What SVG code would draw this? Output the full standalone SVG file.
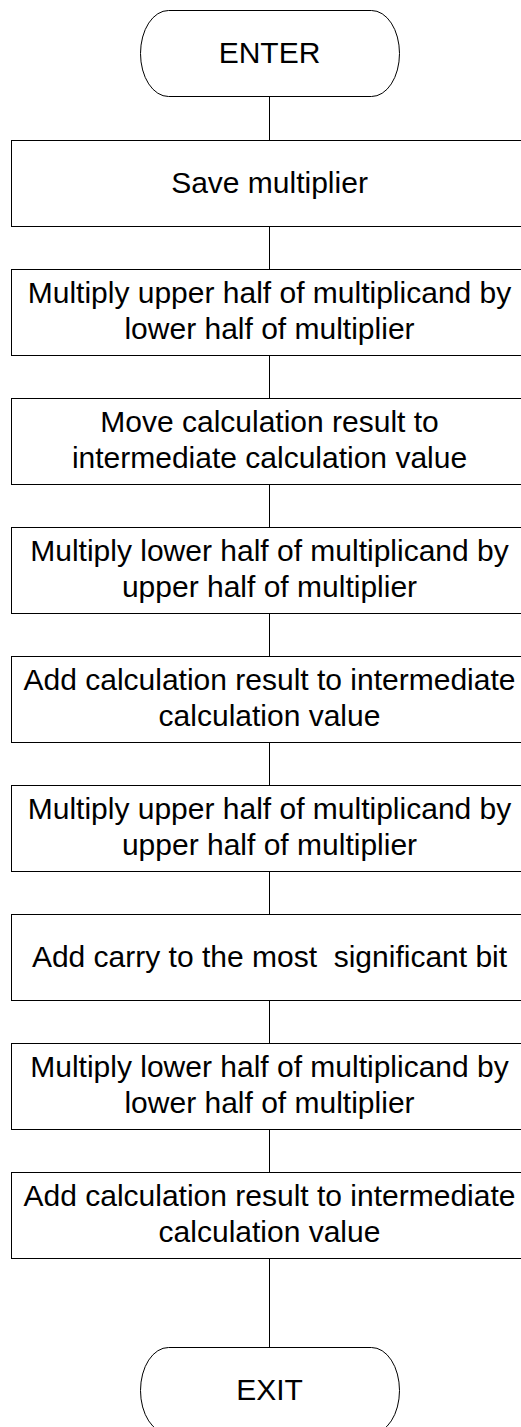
<svg xmlns="http://www.w3.org/2000/svg" width="521" height="1427" viewBox="0 0 521 1427">
<style>
.box{fill:#fff;stroke:#000;stroke-width:1}
.term{fill:#fff;stroke:#000;stroke-width:1}
.lbl{font-family:"Liberation Sans",Arial,sans-serif;font-size:30px;fill:#000;text-anchor:middle}
.conn{stroke:#000;stroke-width:1;fill:none}
</style>
<rect width="521" height="1427" fill="#fff"/>
<g id="connectors">
<line class="conn" x1="269.5" y1="96" x2="269.5" y2="140"/>
<line class="conn" x1="269.5" y1="226" x2="269.5" y2="269"/>
<line class="conn" x1="269.5" y1="355" x2="269.5" y2="398"/>
<line class="conn" x1="269.5" y1="484" x2="269.5" y2="527"/>
<line class="conn" x1="269.5" y1="613" x2="269.5" y2="656"/>
<line class="conn" x1="269.5" y1="742" x2="269.5" y2="785"/>
<line class="conn" x1="269.5" y1="871" x2="269.5" y2="914"/>
<line class="conn" x1="269.5" y1="1000" x2="269.5" y2="1043"/>
<line class="conn" x1="269.5" y1="1129" x2="269.5" y2="1172"/>
<line class="conn" x1="269.5" y1="1258" x2="269.5" y2="1347"/>
</g>
<g id="enter">
<rect class="term" x="140.5" y="10.5" width="259" height="86" rx="28" ry="43"/>
<text class="lbl" x="269.5" y="63">ENTER</text>
</g>
<g id="step1">
<rect class="box" x="11.5" y="140.5" width="516" height="86"/>
<text class="lbl" x="269.5" y="193">Save multiplier</text>
</g>
<g id="step2">
<rect class="box" x="11.5" y="269.5" width="516" height="86"/>
<text class="lbl" x="269.5" y="303">Multiply upper half of multiplicand by</text>
<text class="lbl" x="269.5" y="339">lower half of multiplier</text>
</g>
<g id="step3">
<rect class="box" x="11.5" y="398.5" width="516" height="86"/>
<text class="lbl" x="269.5" y="432">Move calculation result to</text>
<text class="lbl" x="269.5" y="468">intermediate calculation value</text>
</g>
<g id="step4">
<rect class="box" x="11.5" y="527.5" width="516" height="86"/>
<text class="lbl" x="269.5" y="561">Multiply lower half of multiplicand by</text>
<text class="lbl" x="269.5" y="597">upper half of multiplier</text>
</g>
<g id="step5">
<rect class="box" x="11.5" y="656.5" width="516" height="86"/>
<text class="lbl" x="269.5" y="690">Add calculation result to intermediate</text>
<text class="lbl" x="269.5" y="726">calculation value</text>
</g>
<g id="step6">
<rect class="box" x="11.5" y="785.5" width="516" height="86"/>
<text class="lbl" x="269.5" y="819">Multiply upper half of multiplicand by</text>
<text class="lbl" x="269.5" y="855">upper half of multiplier</text>
</g>
<g id="step7">
<rect class="box" x="11.5" y="914.5" width="516" height="86"/>
<text class="lbl" x="269.5" y="967" style="white-space:pre">Add carry to the most  significant bit</text>
</g>
<g id="step8">
<rect class="box" x="11.5" y="1043.5" width="516" height="86"/>
<text class="lbl" x="269.5" y="1077">Multiply lower half of multiplicand by</text>
<text class="lbl" x="269.5" y="1113">lower half of multiplier</text>
</g>
<g id="step9">
<rect class="box" x="11.5" y="1172.5" width="516" height="86"/>
<text class="lbl" x="269.5" y="1206">Add calculation result to intermediate</text>
<text class="lbl" x="269.5" y="1242">calculation value</text>
</g>
<g id="exit">
<rect class="term" x="140.5" y="1347.5" width="259" height="86" rx="28" ry="43"/>
<text class="lbl" x="269.5" y="1400">EXIT</text>
</g>
</svg>
